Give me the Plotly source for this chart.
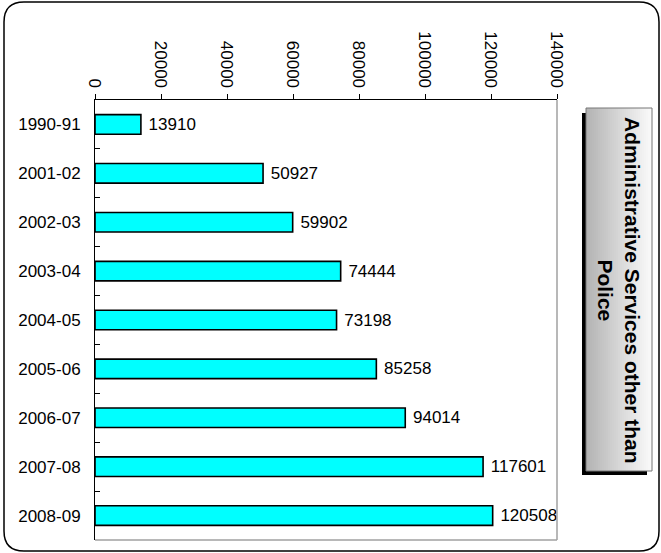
import plotly.graph_objects as go

# Expenditure on administrative services (other than police)
years = ["1990-91", "2001-02", "2002-03", "2003-04", "2004-05",
         "2005-06", "2006-07", "2007-08", "2008-09"]
amounts = [13910, 50927, 59902, 74444, 73198, 85258, 94014, 117601, 120508]
x_ticks = [0, 20000, 40000, 60000, 80000, 100000, 120000, 140000]
title_lines = ["Administrative Services other than", "Police"]

W, H = 661, 553
L, R, T, B = 95, 104, 100, 13
PW, PH = W - L - R, H - T - B


def px(x):
    return (x - L) / PW


def py(y):
    return 1 - (y - T) / PH


FONT = "Liberation Sans, Arial, sans-serif"

fig = go.Figure(go.Bar(
    x=amounts,
    y=years,
    orientation="h",
    marker=dict(color="#00FFFF", line=dict(color="black", width=1.6)),
    text=["\u00a0" + str(v) for v in amounts],
    textposition="outside",
    textfont=dict(family=FONT, size=17, color="black"),
    cliponaxis=False,
))

shapes = []

# plot frame: grey right and bottom edges
shapes.append(dict(type="line", xref="paper", yref="paper", x0=1, x1=1, y0=0, y1=1,
                   line=dict(color="#a0a0a0", width=1.5)))
shapes.append(dict(type="line", xref="paper", yref="paper", x0=0, x1=1, y0=0, y1=0,
                   line=dict(color="#a0a0a0", width=1.5)))

# title box shadow
shapes.append(dict(type="rect", xref="paper", yref="paper",
                   x0=px(582), x1=px(647), y0=py(475), y1=py(113),
                   fillcolor="black", line=dict(width=0), layer="above"))
# title box grey gradient
n = 33
bx0, bx1 = 586, 652
for i in range(n):
    t = i / (n - 1)
    g = int(180 + (250 - 180) * t)
    xa = bx0 + (bx1 - bx0) * i / n
    xb = bx0 + (bx1 - bx0) * (i + 1) / n + 0.5
    shapes.append(dict(type="rect", xref="paper", yref="paper",
                       x0=px(xa), x1=px(xb), y0=py(471), y1=py(108),
                       fillcolor=f"rgb({g},{g},{g})", line=dict(width=0), layer="above"))
shapes.append(dict(type="rect", xref="paper", yref="paper",
                   x0=px(bx0), x1=px(bx1), y0=py(471), y1=py(108),
                   fillcolor="rgba(0,0,0,0)", line=dict(color="#777777", width=1), layer="above"))

# rounded outer border
x0b, x1b, y0b, y1b, r = 4, 659, 2, 551, 20
path = (
    f"M {px(x0b + r)},{py(y0b)} L {px(x1b - r)},{py(y0b)} "
    f"Q {px(x1b)},{py(y0b)} {px(x1b)},{py(y0b + r)} "
    f"L {px(x1b)},{py(y1b - r)} Q {px(x1b)},{py(y1b)} {px(x1b - r)},{py(y1b)} "
    f"L {px(x0b + r)},{py(y1b)} Q {px(x0b)},{py(y1b)} {px(x0b)},{py(y1b - r)} "
    f"L {px(x0b)},{py(y0b + r)} Q {px(x0b)},{py(y0b)} {px(x0b + r)},{py(y0b)} Z"
)
shapes.append(dict(type="path", xref="paper", yref="paper", path=path,
                   line=dict(color="black", width=1.5), fillcolor="rgba(0,0,0,0)"))

fig.update_layout(
    width=W, height=H,
    margin=dict(l=L, r=R, t=T, b=B),
    paper_bgcolor="white",
    plot_bgcolor="white",
    bargap=0.6,
    showlegend=False,
    font=dict(family=FONT, size=17, color="black"),
    xaxis=dict(
        side="top",
        range=[0, 140000],
        tickvals=x_ticks,
        ticktext=[str(v) for v in x_ticks],
        tickangle=90,
        ticks="outside",
        ticklen=5,
        tickcolor="black",
        showline=True,
        linecolor="black",
        linewidth=1,
        showgrid=False,
        zeroline=False,
        tickfont=dict(family=FONT, size=17),
    ),
    yaxis=dict(
        type="category",
        categoryorder="array",
        categoryarray=years,
        autorange="reversed",
        ticks="inside",
        tickson="boundaries",
        ticklen=5,
        tickcolor="black",
        showline=True,
        linecolor="black",
        linewidth=1,
        showgrid=False,
        zeroline=False,
        ticklabelstandoff=10,
        tickfont=dict(family=FONT, size=17),
    ),
    shapes=shapes,
    annotations=[dict(
        text="<br>".join("<b>" + s + "</b>" for s in title_lines),
        xref="paper", yref="paper",
        x=px(646), y=py(290),
        showarrow=False,
        textangle=90,
        align="center",
        font=dict(family=FONT, size=21, color="#000000"),
    )],
)

fig.write_html("out.html")
